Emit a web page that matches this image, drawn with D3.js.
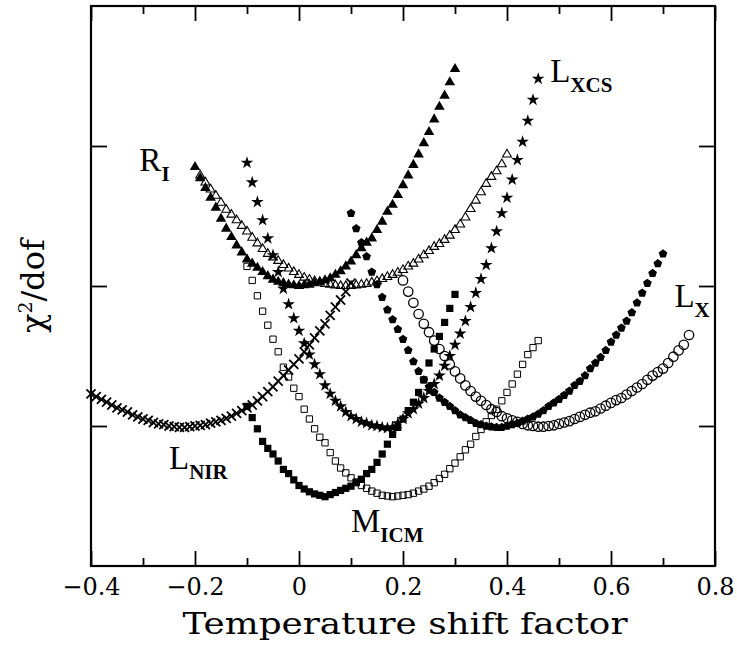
<!DOCTYPE html>
<html>
<head>
<meta charset="utf-8">
<script src="https://cdn.jsdelivr.net/npm/d3@7"></script>
<style>
  html, body { margin: 0; padding: 0; background: #fff; }
  svg { display: block; }
</style>
</head>
<body>
<main></main>
<script>
const WIDTH = 737;
const HEIGHT = 648;
const margin = { top: 6, right: 22, bottom: 82, left: 91 };
const STEP = 0.01;

// Axis ticks
const xMajorTicks = [-0.4, -0.2, 0, 0.2, 0.4, 0.6, 0.8];
const xTickLabels = ["\u22120.4", "\u22120.2", "0", "0.2", "0.4", "0.6", "0.8"];
const xMinorTicks = [-0.3, -0.1, 0.1, 0.3, 0.5, 0.7];
const yTicks = [1, 2, 3];

// Each series: first x value, then chi2/dof read every 0.01 in x.
// Filled triangles
const triFilledStart = -0.2;
const triFilled = [2.85, 2.77, 2.70, 2.63, 2.56, 2.48, 2.41, 2.35, 2.29, 2.24,
  2.19, 2.16, 2.13, 2.10, 2.07, 2.045, 2.03, 2.02, 2.01, 2.005,
  2.00, 2.005, 2.01, 2.02, 2.03, 2.04, 2.055, 2.08, 2.105, 2.14,
  2.175, 2.22, 2.27, 2.31, 2.34, 2.40, 2.46, 2.53, 2.58, 2.65,
  2.72, 2.79, 2.865, 2.94, 3.02, 3.10, 3.19, 3.28, 3.36, 3.455, 3.55];

// Open triangles
const triOpenStart = -0.19;
const triOpen = [2.79, 2.74, 2.69, 2.645, 2.595, 2.545, 2.51, 2.47, 2.43,
  2.39, 2.345, 2.305, 2.265, 2.23, 2.205, 2.18, 2.15, 2.125, 2.10,
  2.08, 2.06, 2.045, 2.035, 2.025, 2.015, 2.01, 2.005, 2.00, 2.00,
  2.00, 2.005, 2.01, 2.015, 2.025, 2.035, 2.05, 2.065, 2.08, 2.095,
  2.115, 2.14, 2.16, 2.19, 2.22, 2.25, 2.28, 2.30, 2.33, 2.36,
  2.40, 2.44, 2.49, 2.55, 2.61, 2.67, 2.73, 2.78, 2.82, 2.87, 2.94];

// Stars
const starStart = -0.1;
const stars = [2.88, 2.74, 2.60, 2.47, 2.34, 2.22, 2.10, 1.98, 1.87, 1.77,
  1.68, 1.59, 1.51, 1.44, 1.37, 1.29, 1.23, 1.18, 1.14, 1.10,
  1.07, 1.05, 1.03, 1.02, 1.005, 1.00, 0.99, 0.985, 0.99, 1.02,
  1.05, 1.09, 1.12, 1.16, 1.20, 1.25, 1.30, 1.36, 1.43, 1.50,
  1.58, 1.66, 1.75, 1.85, 1.95, 2.05, 2.15, 2.27, 2.39, 2.52,
  2.63, 2.76, 2.90, 3.03, 3.18, 3.33, 3.48];

// Crosses
const crossStart = -0.4;
const crosses = [1.23, 1.21, 1.19, 1.17, 1.15, 1.13, 1.115, 1.10, 1.08, 1.065,
  1.05, 1.04, 1.025, 1.015, 1.01, 1.00, 0.995, 0.99, 0.99, 0.995,
  1.00, 1.005, 1.01, 1.02, 1.03, 1.04, 1.055, 1.07, 1.09, 1.11,
  1.13, 1.15, 1.18, 1.21, 1.245, 1.28, 1.32, 1.36, 1.40, 1.44,
  1.48, 1.53, 1.58, 1.63, 1.68, 1.73, 1.79, 1.85, 1.90, 1.96, 2.02];

// Filled pentagons
const pentStart = 0.1;
const pentagons = [2.52, 2.41, 2.31, 2.21, 2.10, 2.01, 1.92, 1.83, 1.76, 1.69,
  1.62, 1.54, 1.46, 1.39, 1.33, 1.28, 1.24, 1.20, 1.17, 1.14,
  1.11, 1.08, 1.06, 1.04, 1.02, 1.01, 1.00, 0.995, 0.99, 0.99,
  1.00, 1.01, 1.02, 1.035, 1.05, 1.065, 1.085, 1.11, 1.14, 1.165,
  1.19, 1.22, 1.25, 1.29, 1.32, 1.36, 1.41, 1.45, 1.49, 1.54,
  1.60, 1.65, 1.70, 1.75, 1.81, 1.88, 1.95, 2.02, 2.09, 2.16, 2.23];

// Open circles
const circStart = 0.2;
const circles = [2.04, 1.96, 1.88, 1.80, 1.73, 1.67, 1.61, 1.55, 1.50, 1.44,
  1.39, 1.34, 1.29, 1.25, 1.21, 1.18, 1.15, 1.12, 1.10, 1.07,
  1.055, 1.04, 1.03, 1.015, 1.005, 1.00, 0.995, 0.995, 1.00, 1.005,
  1.015, 1.025, 1.035, 1.05, 1.065, 1.08, 1.095, 1.105, 1.125, 1.145,
  1.165, 1.185, 1.20, 1.225, 1.25, 1.275, 1.30, 1.33, 1.36, 1.385,
  1.41, 1.45, 1.495, 1.54, 1.58, 1.65];

// Filled squares
const sqFilledStart = -0.1;
const sqFilled = [1.14, 1.06, 0.98, 0.89, 0.84, 0.80, 0.75, 0.69, 0.66, 0.615,
  0.575, 0.55, 0.53, 0.515, 0.505, 0.495, 0.51, 0.525, 0.54, 0.555,
  0.57, 0.595, 0.62, 0.66, 0.69, 0.74, 0.80, 0.87, 0.94, 0.99,
  1.05, 1.11, 1.17, 1.24, 1.33, 1.45, 1.55, 1.64, 1.74, 1.84, 1.94];

// Open squares
const sqOpenStart = -0.1;
const sqOpen = [2.14, 2.04, 1.93, 1.82, 1.72, 1.62, 1.53, 1.42, 1.35, 1.27,
  1.21, 1.12, 1.05, 0.98, 0.92, 0.88, 0.81, 0.75, 0.70, 0.665,
  0.63, 0.60, 0.575, 0.555, 0.535, 0.52, 0.505, 0.50, 0.495, 0.50,
  0.505, 0.51, 0.52, 0.535, 0.55, 0.57, 0.595, 0.625, 0.655, 0.695,
  0.735, 0.78, 0.83, 0.87, 0.925, 0.975, 1.03, 1.075, 1.12, 1.18,
  1.24, 1.30, 1.37, 1.44, 1.51, 1.56, 1.61];

// Curve labels
const labelNames = ["R", "L", "L", "L", "M"];
const labelSubs = ["I", "XCS", "X", "NIR", "ICM"];
const labelX = [-0.307, 0.483, 0.722, -0.25, 0.1];
const labelY = [2.82, 3.46, 1.85, 0.69, 0.24];

// Custom regular polygon marker
function polygon(n, rot) {
  return {
    draw(context, size) {
      const r = Math.sqrt(size) * 0.58;
      for (let i = 0; i < n; i++) {
        const a = rot + (2 * Math.PI * i) / n;
        const px = r * Math.sin(a);
        const py = -r * Math.cos(a);
        if (i === 0) context.moveTo(px, py);
        else context.lineTo(px, py);
      }
      context.closePath();
    },
  };
}

const series = [
  { start: crossStart, values: crosses, type: d3.symbolTimes, size: 55, fill: "none", stroke: "#000", sw: 1.8 },
  { start: sqOpenStart, values: sqOpen, type: d3.symbolSquare, size: 40, fill: "none", stroke: "#000", sw: 1 },
  { start: circStart, values: circles, type: d3.symbolCircle, size: 70, fill: "none", stroke: "#000", sw: 1.3 },
  { start: triOpenStart, values: triOpen, type: d3.symbolTriangle, size: 34, fill: "none", stroke: "#000", sw: 1.1 },
  { start: triFilledStart, values: triFilled, type: d3.symbolTriangle, size: 48, fill: "#000", stroke: "none", sw: 0 },
  { start: starStart, values: stars, type: d3.symbolStar, size: 50, fill: "#000", stroke: "none", sw: 0 },
  { start: pentStart, values: pentagons, type: polygon(5, 0), size: 62, fill: "#000", stroke: "none", sw: 0 },
  { start: sqFilledStart, values: sqFilled, type: d3.symbolSquare, size: 52, fill: "#000", stroke: "none", sw: 0 },
];

const svg = d3
  .select("main")
  .append("svg")
  .attr("width", WIDTH)
  .attr("height", HEIGHT)
  .style("background", "#fff");

const x = d3
  .scaleLinear()
  .domain([-0.4, 0.8])
  .range([margin.left, WIDTH - margin.right]);

const y = d3
  .scaleLinear()
  .domain([0, 4])
  .range([HEIGHT - margin.bottom, margin.top]);

const AXIS_FONT = "'DejaVu Serif', 'Liberation Serif', serif";

// Bottom axis, major ticks with labels
const bottom = svg
  .append("g")
  .attr("transform", "translate(0," + y(0) + ")")
  .call(
    d3.axisBottom(x)
      .tickValues(xMajorTicks)
      .tickSize(-15)
      .tickPadding(12)
      .tickFormat((d, i) => xTickLabels[i])
  );
bottom.selectAll("text")
  .attr("font-family", AXIS_FONT)
  .attr("font-size", 24)
  .attr("fill", "#000");

svg.append("g")
  .attr("transform", "translate(0," + y(0) + ")")
  .call(d3.axisBottom(x).tickValues(xMinorTicks).tickSize(-8).tickFormat(""));

svg.append("g")
  .attr("transform", "translate(0," + y(4) + ")")
  .call(d3.axisTop(x).tickValues(xMajorTicks).tickSize(-15).tickFormat(""));

svg.append("g")
  .attr("transform", "translate(0," + y(4) + ")")
  .call(d3.axisTop(x).tickValues(xMinorTicks).tickSize(-8).tickFormat(""));

svg.append("g")
  .attr("transform", "translate(" + x(-0.4) + ",0)")
  .call(d3.axisLeft(y).tickValues(yTicks).tickSize(-16).tickFormat(""));

svg.append("g")
  .attr("transform", "translate(" + x(0.8) + ",0)")
  .call(d3.axisRight(y).tickValues(yTicks).tickSize(-16).tickFormat(""));

svg.selectAll(".domain").remove();
svg.selectAll(".tick line").attr("stroke", "#000").attr("stroke-width", 1.8);

// Frame
svg.append("rect")
  .attr("x", x(-0.4))
  .attr("y", y(4))
  .attr("width", x(0.8) - x(-0.4))
  .attr("height", y(0) - y(4))
  .attr("fill", "none")
  .attr("stroke", "#000")
  .attr("stroke-width", 2.2);

// Markers
series.forEach((s) => {
  const pts = s.values.map((v, i) => ({ x: s.start + i * STEP, y: v }));
  svg.append("g")
    .selectAll("path")
    .data(pts)
    .join("path")
    .attr("transform", (d) => "translate(" + x(d.x) + "," + y(d.y) + ")")
    .attr("d", d3.symbol().type(s.type).size(s.size))
    .attr("fill", s.fill)
    .attr("stroke", s.stroke)
    .attr("stroke-width", s.sw);
});

// Curve labels
const labels = svg.append("g")
  .attr("font-family", "'Liberation Serif', 'DejaVu Serif', serif")
  .attr("fill", "#000");

labelNames.forEach((name, i) => {
  const t = labels.append("text")
    .attr("x", x(labelX[i]))
    .attr("y", y(labelY[i]))
    .attr("font-size", 33);
  t.append("tspan").text(name);
  t.append("tspan")
    .attr("dy", 10)
    .attr("font-size", 21)
    .attr("font-weight", "bold")
    .text(labelSubs[i]);
});

// Axis titles
svg.append("text")
  .attr("x", 405)
  .attr("y", 634)
  .attr("text-anchor", "middle")
  .attr("font-family", AXIS_FONT)
  .attr("font-size", 30)
  .attr("textLength", 445)
  .attr("lengthAdjust", "spacingAndGlyphs")
  .text("Temperature shift factor");

const yTitle = svg.append("text")
  .attr("transform", "translate(44," + y(2) + ") rotate(-90)")
  .attr("text-anchor", "middle")
  .attr("font-family", AXIS_FONT)
  .attr("font-size", 32);
yTitle.append("tspan").text("\u03c7");
yTitle.append("tspan").attr("dy", -12).attr("font-size", 19).text("2");
yTitle.append("tspan").attr("dy", 12).text("/dof");
</script>
</body>
</html>
